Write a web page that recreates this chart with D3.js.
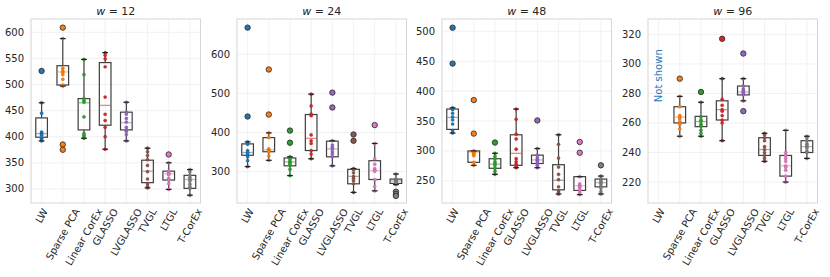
<!DOCTYPE html>
<html>
<head>
<meta charset="utf-8">
<script src="https://cdn.jsdelivr.net/npm/d3@7"></script>
<style>
    body { margin: 0; background: #fff; }
    text { font-family: "DejaVu Sans", sans-serif; fill: #262626; }
</style>
</head>
<body>
<div id="chart"></div>
<script>

// methods on the x axis, one colour each (tab10)
var methods = ["LW", "Sparse PCA", "Linear CorEx", "GLASSO", "LVGLASSO", "TVGL", "LTGL", "T-CorEx"];
var palette = ["#1f77b4", "#ff7f0e", "#2ca02c", "#d62728", "#9467bd", "#8c564b", "#e377c2", "#7f7f7f"];

// window sizes (one panel each)
var windows = [12, 24, 48, 96];

// y tick labels per panel
var ticks12 = [300, 350, 400, 450, 500, 550, 600];
var ticks24 = [300, 400, 500, 600];
var ticks48 = [250, 300, 350, 400, 450, 500];
var ticks96 = [220, 240, 260, 280, 300, 320];

// box stats per method: [whisker low, q1, median, q3, whisker high]
var box12 = [
    [392, 399, 406, 436, 465],
    [497, 499, 524, 536, 588],
    [397, 413, 465, 473, 548],
    [376, 422, 460, 542, 561],
    [392, 413, 427, 447, 466],
    [302, 312, 334, 355, 378],
    [299, 317, 329, 334, 350],
    [288, 301, 318, 326, 337]
];
var box24 = [
    [313, 342, 349, 371, 376],
    [329, 351, 356, 387, 399],
    [290, 315, 325, 335, 338],
    [333, 354, 385, 446, 498],
    [315, 338, 358, 378, 379],
    [247, 269, 288, 306, 308],
    [251, 280, 303, 328, 372],
    [267, 270, 276, 281, 294]
];
var box48 = [
    [330, 336, 356, 370, 372],
    [276, 281, 298, 300, 300],
    [261, 271, 278, 287, 296],
    [272, 276, 296, 327, 370],
    [272, 279, 285, 293, 304],
    [228, 235, 251, 277, 327],
    [227, 234, 242, 257, 257],
    [228, 240, 247, 253, 258]
];
var box96 = [
    null,
    [251, 260, 264, 271, 278],
    [251, 257.5, 261, 264.5, 274],
    [248, 262, 269, 275, 290],
    [275, 279, 281, 285, 290],
    [234, 238, 242, 250, 253],
    [220, 224, 231, 238, 255],
    [236, 240, 244, 248, 251]
];

// individual runs per method
var runs12 = [
    [526, 465, 445, 409, 407, 405, 403, 397, 394, 392],
    [609, 588, 531, 526, 523, 519, 510, 499, 497, 385, 375],
    [548, 519, 473, 469, 466, 438, 406, 403, 399, 397],
    [561, 556, 549, 534, 476, 443, 431, 418, 400, 376],
    [466, 447, 443, 435, 428, 418, 413, 410, 404, 392],
    [378, 371, 364, 356, 345, 333, 319, 310, 305, 302],
    [366, 350, 334, 330, 329, 327, 320, 317, 310, 299],
    [337, 333, 326, 322, 318, 315, 309, 304, 301, 288]
];
var runs24 = [
    [668, 441, 376, 370, 354, 349, 346, 338, 328, 313],
    [561, 446, 399, 387, 358, 355, 353, 351, 340, 329],
    [405, 374, 338, 333, 328, 324, 320, 316, 306, 290],
    [498, 468, 447, 443, 394, 379, 372, 354, 345, 333],
    [502, 464, 379, 368, 362, 358, 351, 345, 338, 315],
    [395, 379, 308, 305, 297, 288, 283, 277, 269, 247],
    [419, 372, 333, 319, 308, 304, 301, 280, 262, 251],
    [294, 281, 279, 276, 274, 272, 267, 249, 243, 238]
];
var runs48 = [
    [506, 446, 372, 369, 363, 357, 352, 345, 334, 330],
    [385, 329, 300, 299, 298, 296, 294, 292, 281, 276],
    [314, 296, 291, 287, 282, 279, 276, 271, 266, 261],
    [370, 353, 328, 320, 303, 287, 282, 278, 275, 272],
    [351, 304, 293, 289, 286, 284, 282, 279, 276, 272],
    [327, 311, 288, 273, 261, 252, 240, 233, 230, 228],
    [315, 297, 257, 245, 242, 240, 238, 234, 230, 227],
    [276, 258, 253, 250, 247, 245, 241, 238, 232, 228]
];
var runs96 = [
    [],
    [290, 278, 271, 265, 264, 263, 261, 259, 256, 251],
    [281, 274, 264, 262, 261, 259, 258, 255, 253, 251],
    [317, 290, 276, 272, 269, 268, 265, 262, 260, 248],
    [307, 290, 285, 283, 282, 281, 280, 279, 275, 268],
    [253, 252, 250, 248, 244, 242, 240, 238, 236, 234],
    [255, 240, 238, 236, 234, 231, 230, 228, 224, 220],
    [251, 250, 248, 246, 245, 244, 243, 241, 240, 236]
];

function init() {

        var w = 830;
        var h = 277;

        // panel layout
        var panelX = [31, 237, 442, 648];
        var pw = 169.5;
        var top = 19;
        var ph = 184;

        var yDomains = [[273, 625.5], [220, 690], [213, 520.5], [205.8, 330.4]];
        var allTicks = [ticks12, ticks24, ticks48, ticks96];
        var allBoxes = [box12, box24, box48, box96];
        var allRuns = [runs12, runs24, runs48, runs96];

        var svg = d3.select("#chart")
            .append("svg")
            .attr("width", w)
            .attr("height", h);

        var x = d3.scaleBand()
            .domain(methods)
            .range([0, pw])
            .padding(0);

        var boxW = x.bandwidth() * 0.55;

        windows.forEach(function (win, p) {

            var g = svg.append("g")
                .attr("transform", "translate(" + panelX[p] + "," + top + ")");

            var y = d3.scaleLinear()
                .domain(yDomains[p])
                .range([ph, 0]);

            // grid
            g.selectAll(".hgrid")
                .data(allTicks[p])
                .enter()
                .append("line")
                .attr("x1", 0).attr("x2", pw)
                .attr("y1", function (d) { return y(d); })
                .attr("y2", function (d) { return y(d); })
                .attr("stroke", "#ededed")
                .attr("stroke-width", 0.8);

            g.selectAll(".vgrid")
                .data(methods)
                .enter()
                .append("line")
                .attr("x1", function (d) { return x(d) + x.bandwidth() / 2; })
                .attr("x2", function (d) { return x(d) + x.bandwidth() / 2; })
                .attr("y1", 0).attr("y2", ph)
                .attr("stroke", "#ededed")
                .attr("stroke-width", 0.8);

            // frame
            g.append("rect")
                .attr("width", pw)
                .attr("height", ph)
                .attr("fill", "none")
                .attr("stroke", "#d6d6d6")
                .attr("stroke-width", 1);

            // y tick labels
            g.selectAll(".ylab")
                .data(allTicks[p])
                .enter()
                .append("text")
                .attr("x", -7)
                .attr("y", function (d) { return y(d); })
                .attr("dy", "0.35em")
                .attr("text-anchor", "end")
                .style("font-size", "10px")
                .text(function (d) { return d; });

            // x tick labels, rotated 60 deg, box top under the axis
            methods.forEach(function (m) {
                var cx = x(m) + x.bandwidth() / 2;
                var lab = g.append("text")
                    .attr("text-anchor", "middle")
                    .attr("dy", "0.35em")
                    .style("font-size", "10px")
                    .text(m);
                var L = lab.node().getComputedTextLength();
                var bh = L * Math.sin(Math.PI / 3) + 11.5 * 0.5;
                lab.attr("transform", "translate(" + cx + "," + (ph + 3.5 + bh / 2) + ") rotate(-60)");
            });

            // title
            var title = g.append("text")
                .attr("x", pw / 2)
                .attr("y", -4)
                .attr("text-anchor", "middle")
                .style("font-size", "11px");
            title.append("tspan").style("font-style", "italic").text("w");
            title.append("tspan").text(" = " + win);

            // boxes
            methods.forEach(function (m, i) {
                var b = allBoxes[p][i];
                var pts = allRuns[p][i];
                var cx = x(m) + x.bandwidth() / 2;
                var col = palette[i];

                if (!b) {
                    g.append("text")
                        .attr("transform", "translate(" + cx + "," + y(292) + ") rotate(-90)")
                        .attr("text-anchor", "middle")
                        .attr("dy", "0.35em")
                        .style("font-size", "10px")
                        .style("fill", col)
                        .text("Not shown");
                    return;
                }

                // whiskers
                g.append("line")
                    .attr("x1", cx).attr("x2", cx)
                    .attr("y1", y(b[0])).attr("y2", y(b[1]))
                    .attr("stroke", "#3f3f3f").attr("stroke-width", 1.2);
                g.append("line")
                    .attr("x1", cx).attr("x2", cx)
                    .attr("y1", y(b[3])).attr("y2", y(b[4]))
                    .attr("stroke", "#3f3f3f").attr("stroke-width", 1.2);

                g.append("rect")
                    .attr("x", cx - boxW / 2)
                    .attr("y", y(b[3]))
                    .attr("width", boxW)
                    .attr("height", y(b[1]) - y(b[3]))
                    .attr("fill", "none")
                    .attr("stroke", "#3f3f3f")
                    .attr("stroke-width", 1.2);

                g.append("line")
                    .attr("x1", cx - boxW / 2 + 0.6).attr("x2", cx + boxW / 2 - 0.6)
                    .attr("y1", y(b[2])).attr("y2", y(b[2]))
                    .attr("stroke", col)
                    .attr("stroke-opacity", 0.55)
                    .attr("stroke-width", 1.3);

                // runs inside the whiskers
                var inner = pts.filter(function (v) { return v >= b[0] && v <= b[4]; });
                var out = pts.filter(function (v) { return v < b[0] || v > b[4]; });

                g.selectAll(null)
                    .data(inner)
                    .enter()
                    .append("circle")
                    .attr("cx", cx)
                    .attr("cy", function (d) { return y(d); })
                    .attr("r", 1.6)
                    .attr("fill", col)
                    .attr("stroke", d3.color(col).darker(1))
                    .attr("stroke-width", 0.3);

                // caps
                [b[0], b[4]].forEach(function (v) {
                    g.append("line")
                        .attr("x1", cx - boxW / 4).attr("x2", cx + boxW / 4)
                        .attr("y1", y(v)).attr("y2", y(v))
                        .attr("stroke", "#222").attr("stroke-width", 1.2);
                });

                // outliers
                g.selectAll(null)
                    .data(out)
                    .enter()
                    .append("circle")
                    .attr("cx", cx)
                    .attr("cy", function (d) { return y(d); })
                    .attr("r", 2.7)
                    .attr("fill", col)
                    .attr("stroke", "#333")
                    .attr("stroke-width", 0.9);
            });
        });
}

window.onload = init;
</script>
</body>
</html>
